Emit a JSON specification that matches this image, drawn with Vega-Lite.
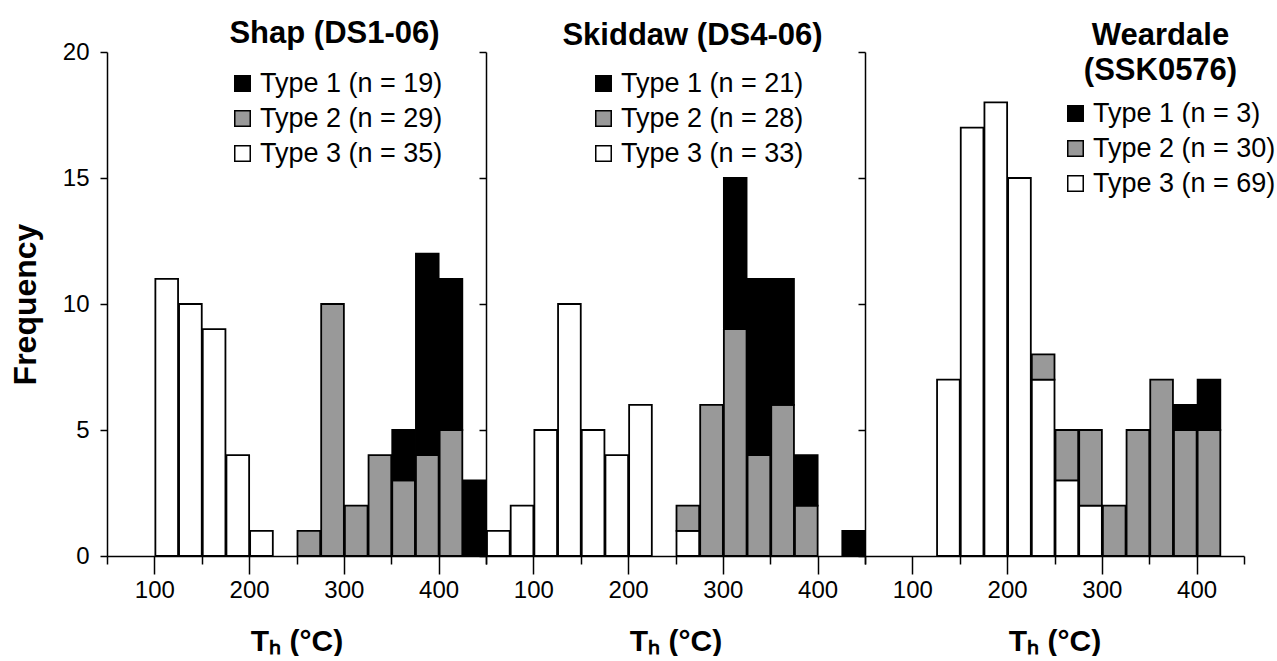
{
  "$schema": "https://vega.github.io/schema/vega-lite/v6.json",
  "background": "white",
  "padding": {"left": 9, "top": 18, "right": 0, "bottom": 0},
  "config": {
    "font": "Liberation Sans",
    "view": {"stroke": null},
    "axis": {"domainColor": "black", "domainWidth": 1.5, "tickColor": "black", "tickWidth": 1.5, "labelColor": "black", "titleColor": "black", "labelFont": "Liberation Sans", "labelFontSize": 24, "grid": false, "titleFont": "Liberation Sans", "titleFontSize": 30, "titleFontWeight": "bold"},
    "title": {"font": "Liberation Sans", "fontSize": 31, "fontWeight": "bold", "color": "black", "frame": "group", "anchor": "middle", "baseline": "alphabetic", "lineHeight": 35},
    "legend": {"labelFont": "Liberation Sans", "labelFontSize": 27, "labelColor": "black", "symbolType": "square", "symbolSize": 240, "symbolStrokeColor": "black", "symbolStrokeWidth": 1.5, "rowPadding": 7, "labelOffset": 4, "padding": 0, "labelLimit": 400, "title": null}
  },
  "datasets": {
    "d": [
      {"site": "Shap", "lo": 100, "hi": 125, "series": "Type 3 (n = 35)", "count": 11},
      {"site": "Shap", "lo": 125, "hi": 150, "series": "Type 3 (n = 35)", "count": 10},
      {"site": "Shap", "lo": 150, "hi": 175, "series": "Type 3 (n = 35)", "count": 9},
      {"site": "Shap", "lo": 175, "hi": 200, "series": "Type 3 (n = 35)", "count": 4},
      {"site": "Shap", "lo": 200, "hi": 225, "series": "Type 3 (n = 35)", "count": 1},
      {"site": "Shap", "lo": 250, "hi": 275, "series": "Type 2 (n = 29)", "count": 1},
      {"site": "Shap", "lo": 275, "hi": 300, "series": "Type 2 (n = 29)", "count": 10},
      {"site": "Shap", "lo": 300, "hi": 325, "series": "Type 2 (n = 29)", "count": 2},
      {"site": "Shap", "lo": 325, "hi": 350, "series": "Type 2 (n = 29)", "count": 4},
      {"site": "Shap", "lo": 350, "hi": 375, "series": "Type 2 (n = 29)", "count": 3},
      {"site": "Shap", "lo": 375, "hi": 400, "series": "Type 2 (n = 29)", "count": 4},
      {"site": "Shap", "lo": 400, "hi": 425, "series": "Type 2 (n = 29)", "count": 5},
      {"site": "Shap", "lo": 350, "hi": 375, "series": "Type 1 (n = 19)", "count": 2},
      {"site": "Shap", "lo": 375, "hi": 400, "series": "Type 1 (n = 19)", "count": 8},
      {"site": "Shap", "lo": 400, "hi": 425, "series": "Type 1 (n = 19)", "count": 6},
      {"site": "Shap", "lo": 425, "hi": 450, "series": "Type 1 (n = 19)", "count": 3},
      {"site": "Skiddaw", "lo": 50, "hi": 75, "series": "Type 3 (n = 33)", "count": 1},
      {"site": "Skiddaw", "lo": 75, "hi": 100, "series": "Type 3 (n = 33)", "count": 2},
      {"site": "Skiddaw", "lo": 100, "hi": 125, "series": "Type 3 (n = 33)", "count": 5},
      {"site": "Skiddaw", "lo": 125, "hi": 150, "series": "Type 3 (n = 33)", "count": 10},
      {"site": "Skiddaw", "lo": 150, "hi": 175, "series": "Type 3 (n = 33)", "count": 5},
      {"site": "Skiddaw", "lo": 175, "hi": 200, "series": "Type 3 (n = 33)", "count": 4},
      {"site": "Skiddaw", "lo": 200, "hi": 225, "series": "Type 3 (n = 33)", "count": 6},
      {"site": "Skiddaw", "lo": 250, "hi": 275, "series": "Type 3 (n = 33)", "count": 1},
      {"site": "Skiddaw", "lo": 250, "hi": 275, "series": "Type 2 (n = 28)", "count": 1},
      {"site": "Skiddaw", "lo": 275, "hi": 300, "series": "Type 2 (n = 28)", "count": 6},
      {"site": "Skiddaw", "lo": 300, "hi": 325, "series": "Type 2 (n = 28)", "count": 9},
      {"site": "Skiddaw", "lo": 325, "hi": 350, "series": "Type 2 (n = 28)", "count": 4},
      {"site": "Skiddaw", "lo": 350, "hi": 375, "series": "Type 2 (n = 28)", "count": 6},
      {"site": "Skiddaw", "lo": 375, "hi": 400, "series": "Type 2 (n = 28)", "count": 2},
      {"site": "Skiddaw", "lo": 300, "hi": 325, "series": "Type 1 (n = 21)", "count": 6},
      {"site": "Skiddaw", "lo": 325, "hi": 350, "series": "Type 1 (n = 21)", "count": 7},
      {"site": "Skiddaw", "lo": 350, "hi": 375, "series": "Type 1 (n = 21)", "count": 5},
      {"site": "Skiddaw", "lo": 375, "hi": 400, "series": "Type 1 (n = 21)", "count": 2},
      {"site": "Skiddaw", "lo": 425, "hi": 450, "series": "Type 1 (n = 21)", "count": 1},
      {"site": "Weardale", "lo": 125, "hi": 150, "series": "Type 3 (n = 69)", "count": 7},
      {"site": "Weardale", "lo": 150, "hi": 175, "series": "Type 3 (n = 69)", "count": 17},
      {"site": "Weardale", "lo": 175, "hi": 200, "series": "Type 3 (n = 69)", "count": 18},
      {"site": "Weardale", "lo": 200, "hi": 225, "series": "Type 3 (n = 69)", "count": 15},
      {"site": "Weardale", "lo": 225, "hi": 250, "series": "Type 3 (n = 69)", "count": 7},
      {"site": "Weardale", "lo": 250, "hi": 275, "series": "Type 3 (n = 69)", "count": 3},
      {"site": "Weardale", "lo": 275, "hi": 300, "series": "Type 3 (n = 69)", "count": 2},
      {"site": "Weardale", "lo": 225, "hi": 250, "series": "Type 2 (n = 30)", "count": 1},
      {"site": "Weardale", "lo": 250, "hi": 275, "series": "Type 2 (n = 30)", "count": 2},
      {"site": "Weardale", "lo": 275, "hi": 300, "series": "Type 2 (n = 30)", "count": 3},
      {"site": "Weardale", "lo": 300, "hi": 325, "series": "Type 2 (n = 30)", "count": 2},
      {"site": "Weardale", "lo": 325, "hi": 350, "series": "Type 2 (n = 30)", "count": 5},
      {"site": "Weardale", "lo": 350, "hi": 375, "series": "Type 2 (n = 30)", "count": 7},
      {"site": "Weardale", "lo": 375, "hi": 400, "series": "Type 2 (n = 30)", "count": 5},
      {"site": "Weardale", "lo": 400, "hi": 425, "series": "Type 2 (n = 30)", "count": 5},
      {"site": "Weardale", "lo": 375, "hi": 400, "series": "Type 1 (n = 3)", "count": 1},
      {"site": "Weardale", "lo": 400, "hi": 425, "series": "Type 1 (n = 3)", "count": 2}
    ]
  },
  "spacing": 0,
  "bounds": "flush",
  "resolve": {"scale": {"x": "independent", "y": "independent", "fill": "independent"}, "axis": {"x": "independent", "y": "independent"}, "legend": {"fill": "independent"}},
  "hconcat": [
    {
      "width": 379, "height": 504,
      "title": {"text": "Shap (DS1-06)", "dx": 38, "dy": 22, "offset": 12},
      "data": {"name": "d"},
      "transform": [{"filter": "datum.site === 'Shap'"}],
      "mark": {"type": "bar", "stroke": "black", "strokeWidth": 1.8},
      "encoding": {
        "x": {"field": "lo", "type": "quantitative", "bin": {"binned": true, "step": 25}, "scale": {"domain": [50, 450], "nice": false, "zero": false},
              "axis": {"values": [50, 100, 150, 200, 250, 300, 350, 400, 450], "tickSize": {"condition": {"test": "datum.value % 100 === 0", "value": 18}, "value": 8}, "labelExpr": "datum.value % 100 === 0 ? datum.label : ''", "labelPadding": 4, "labelFlush": false, "labelOverlap": false, "title": "Tₕ (°C)", "titlePadding": 24}},
        "x2": {"field": "hi"},
        "y": {"field": "count", "type": "quantitative", "stack": "zero", "scale": {"domain": [0, 20], "nice": false},
              "axis": {"values": [0, 5, 10, 15, 20], "tickSize": 7, "labelPadding": 11, "title": "Frequency", "titleFontSize": 32, "titlePadding": 20}},
        "fill": {"field": "series", "type": "nominal", "scale": {"domain": ["Type 1 (n = 19)", "Type 2 (n = 29)", "Type 3 (n = 35)"], "range": ["black", "#999999", "white"]},
                 "legend": {"orient": "none", "legendX": 122, "legendY": 18}},
        "order": {"field": "series", "sort": "descending"}
      }
    },
    {
      "width": 379, "height": 504,
      "title": {"text": "Skiddaw (DS4-06)", "dx": 17, "dy": 13, "offset": 12},
      "data": {"name": "d"},
      "transform": [{"filter": "datum.site === 'Skiddaw'"}],
      "mark": {"type": "bar", "stroke": "black", "strokeWidth": 1.8},
      "encoding": {
        "x": {"field": "lo", "type": "quantitative", "bin": {"binned": true, "step": 25}, "scale": {"domain": [50, 450], "nice": false, "zero": false},
              "axis": {"values": [50, 100, 150, 200, 250, 300, 350, 400, 450], "tickSize": {"condition": {"test": "datum.value % 100 === 0", "value": 18}, "value": 8}, "labelExpr": "datum.value % 100 === 0 ? datum.label : ''", "labelPadding": 4, "labelFlush": false, "labelOverlap": false, "title": "Tₕ (°C)", "titlePadding": 24}},
        "x2": {"field": "hi"},
        "y": {"field": "count", "type": "quantitative", "stack": "zero", "scale": {"domain": [0, 20], "nice": false},
              "axis": {"values": [0, 5, 10, 15, 20], "tickSize": 7, "labels": false, "title": null}},
        "fill": {"field": "series", "type": "nominal", "scale": {"domain": ["Type 1 (n = 21)", "Type 2 (n = 28)", "Type 3 (n = 33)"], "range": ["black", "#999999", "white"]},
                 "legend": {"orient": "none", "legendX": 104, "legendY": 18}},
        "order": {"field": "series", "sort": "descending"}
      }
    },
    {
      "width": 379, "height": 504,
      "title": {"text": ["Weardale", "(SSK0576)"], "dx": 106, "dy": 43, "offset": 7},
      "data": {"name": "d"},
      "transform": [{"filter": "datum.site === 'Weardale'"}],
      "mark": {"type": "bar", "stroke": "black", "strokeWidth": 1.8},
      "encoding": {
        "x": {"field": "lo", "type": "quantitative", "bin": {"binned": true, "step": 25}, "scale": {"domain": [50, 450], "nice": false, "zero": false},
              "axis": {"values": [50, 100, 150, 200, 250, 300, 350, 400, 450], "tickSize": {"condition": {"test": "datum.value % 100 === 0", "value": 18}, "value": 8}, "labelExpr": "datum.value % 100 === 0 ? datum.label : ''", "labelPadding": 4, "labelFlush": false, "labelOverlap": false, "title": "Tₕ (°C)", "titlePadding": 24}},
        "x2": {"field": "hi"},
        "y": {"field": "count", "type": "quantitative", "stack": "zero", "scale": {"domain": [0, 20], "nice": false},
              "axis": {"values": [0, 5, 10, 15, 20], "tickSize": 7, "labels": false, "title": null}},
        "fill": {"field": "series", "type": "nominal", "scale": {"domain": ["Type 1 (n = 3)", "Type 2 (n = 30)", "Type 3 (n = 69)"], "range": ["black", "#999999", "white"]},
                 "legend": {"orient": "none", "legendX": 197, "legendY": 48}},
        "order": {"field": "series", "sort": "descending"}
      }
    }
  ]
}
